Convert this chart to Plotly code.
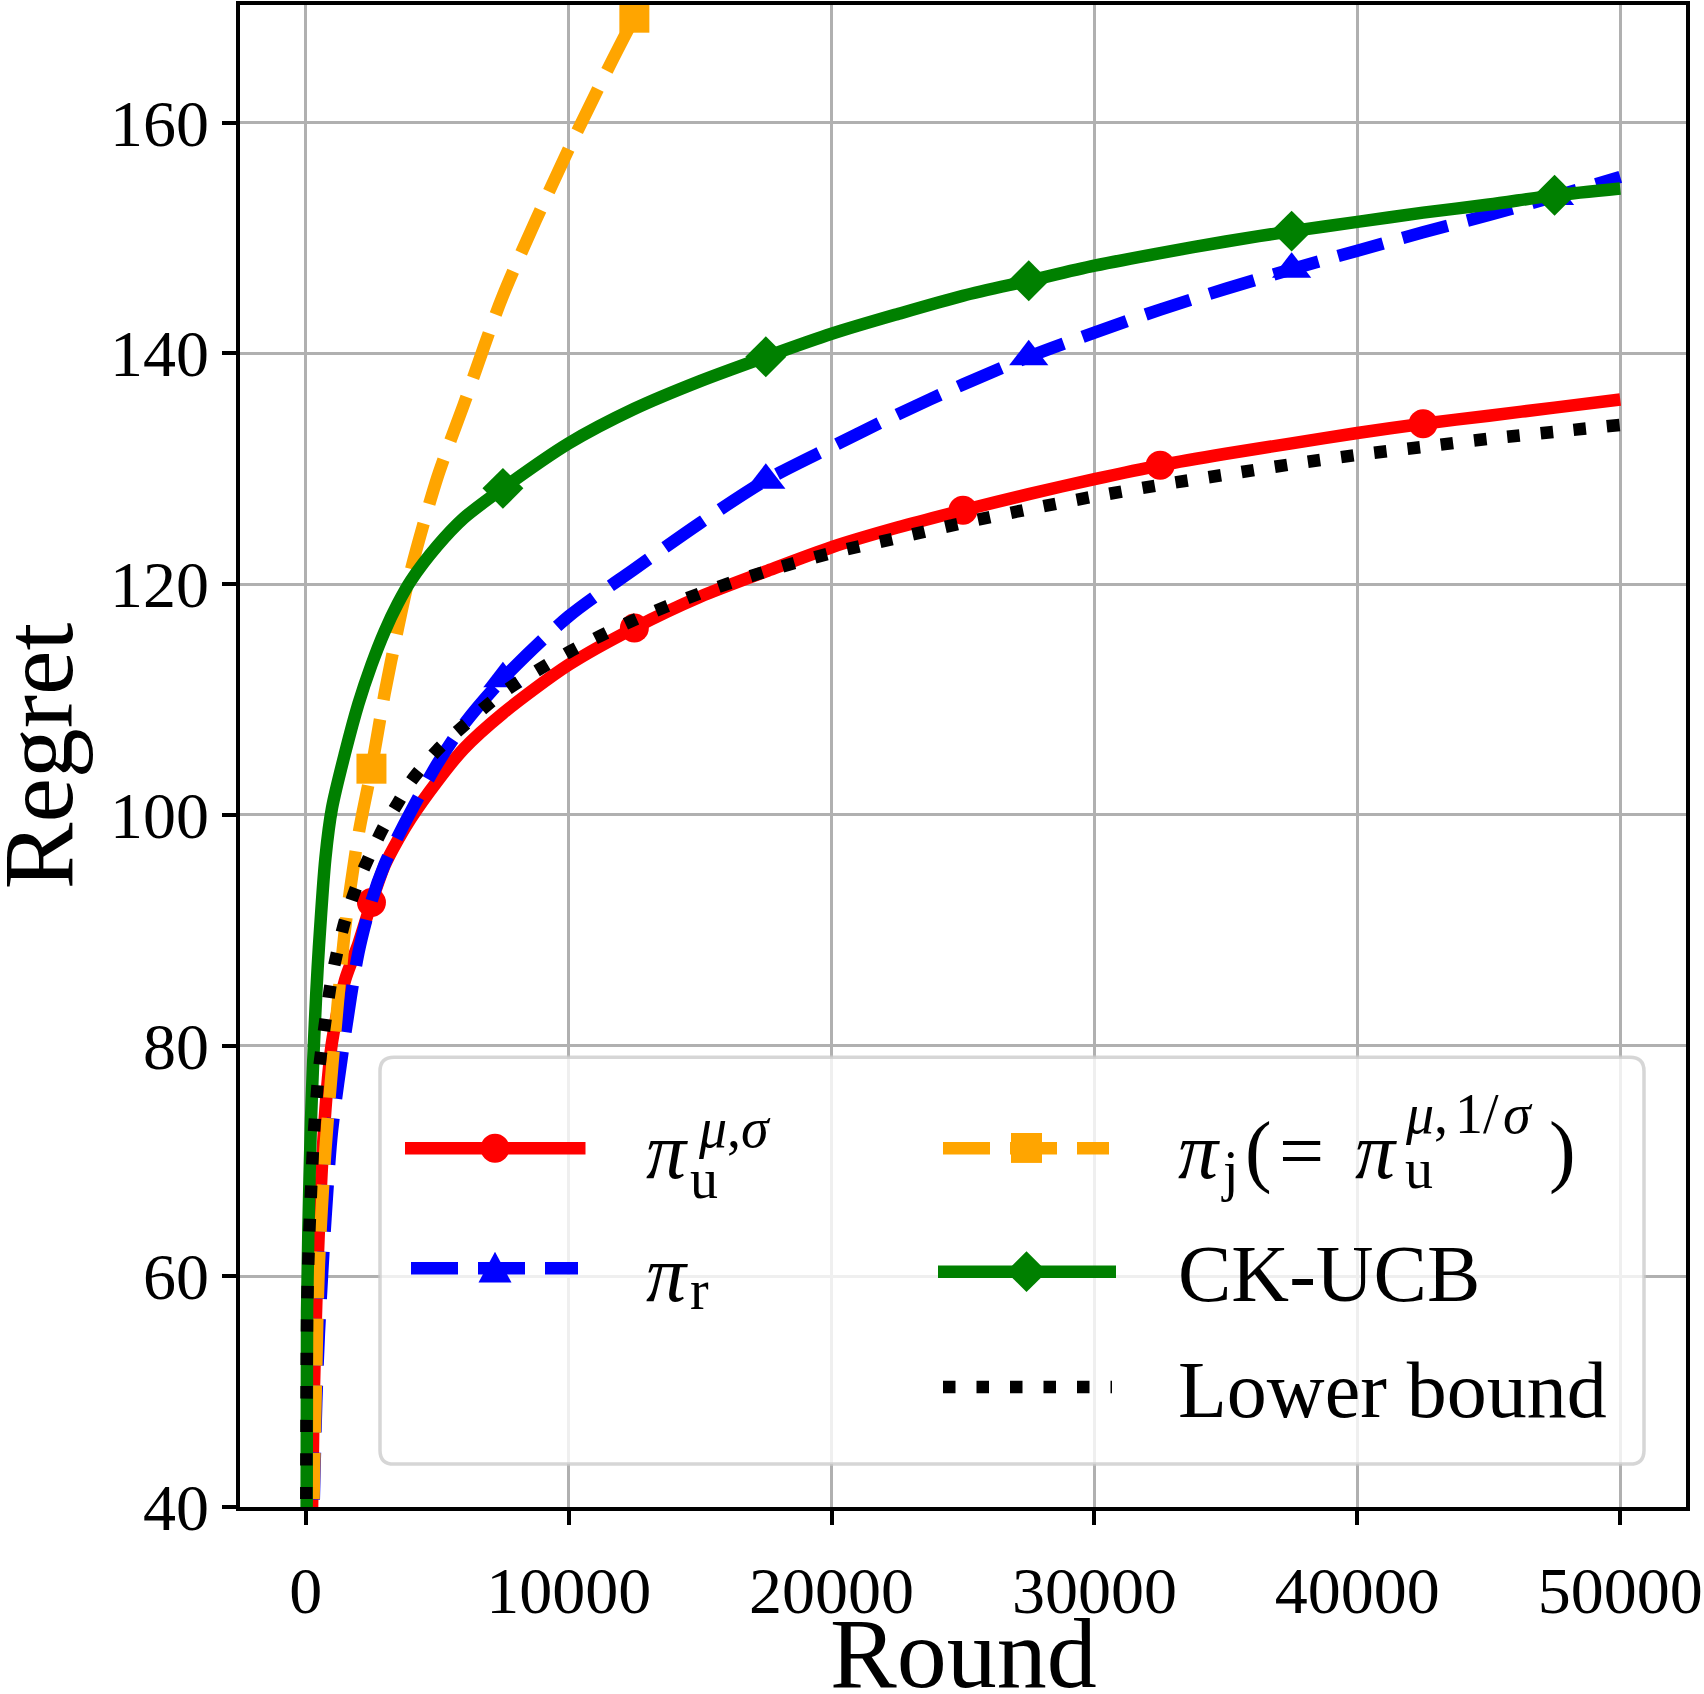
import plotly.graph_objects as go

# ---------------- data ----------------
ROUNDS = [0, 50, 100, 200, 300, 400, 500, 750, 1000, 1500, 2000, 2500, 3000, 3500,
          4000, 5000, 6000, 7500, 10000, 12500, 15000, 17500, 20000, 22500, 25000,
          27500, 30000, 32500, 35000, 37500, 40000, 42500, 45000, 47500, 50000]

regret_pi_u = [0, 12, 22, 33, 49, 57.5, 64, 74.5, 80.3, 85.7, 88.8, 92.4, 95.6, 97.8,
               99.7, 102.9, 105.7, 108.8, 113.0, 116.2, 118.9, 121.1, 123.2, 124.9, 126.4,
               127.8, 129.1, 130.3, 131.3, 132.2, 133.1, 133.9, 134.6, 135.3, 136.0]
regret_pi_r = [0, 10, 18, 30, 40, 49, 55, 65, 72.6, 81, 88, 92.5, 95.7, 98.1,
               100.3, 104.4, 107.8, 111.8, 117.2, 121.3, 125.3, 129.0, 131.9, 134.7, 137.3,
               139.7, 141.8, 143.8, 145.6, 147.3, 148.9, 150.5, 152.0, 153.6, 155.3]
regret_pi_j = [0, 8, 15, 28, 41, 52, 61, 71, 78, 90.2, 98.2, 104.0, 110.5, 116.1,
               121.2, 129.2, 135.5, 145.0, 157.7, 169.1, 179] + [None] * 14
regret_ckucb = [0, 57, 64, 73.5, 79.5, 84.5, 88.5, 96.3, 100.6, 105.4, 109.6, 113.0, 115.9, 118.3,
                120.3, 123.3, 125.7, 128.3, 132.2, 135.2, 137.6, 139.7, 141.7, 143.4, 145.0,
                146.3, 147.6, 148.7, 149.7, 150.6, 151.4, 152.2, 152.9, 153.7, 154.3]
regret_lower = [0, 56, 61.5, 67.3, 72, 75.1, 77.8, 82.2, 86.0, 90.9, 94.2, 96.8, 99.1, 101.0,
                102.9, 105.6, 107.7, 110.6, 114.1, 116.9, 119.2, 121.1, 122.7, 124.0, 125.3,
                126.5, 127.6, 128.6, 129.5, 130.4, 131.2, 131.9, 132.6, 133.2, 133.8]

# rounds at which a marker is drawn on each curve
marks_pi_u = [2500, 12500, 25000, 32500, 42500]
marks_pi_r = [7500, 17500, 27500, 37500, 47500]
marks_pi_j = [2500, 12500]
marks_ckucb = [7500, 17500, 27500, 37500, 47500]

X_TICKS = [0, 10000, 20000, 30000, 40000, 50000]
Y_TICKS = [40, 60, 80, 100, 120, 140, 160]

# ---------------- geometry / style ----------------
FONT = "Liberation Serif"
W_FIG, H_FIG = 1704, 1694
L, R, T, B = 240, 1686, 1, 1507
PW, PH = R - L, B - T
LW = 12.5
DASH = "47px,20px"
DOT = "12.5px,21px"


def PX(px):
    return (px - L) / PW


def PY(py):
    return (B - py) / PH


def sizes(marks, s):
    return [s if x in marks else 0 for x in ROUNDS]


fig = go.Figure()

series = [
    (regret_pi_u, "red", "solid", "circle", sizes(marks_pi_u, 29)),
    (regret_pi_r, "blue", DASH, "triangle-up", sizes(marks_pi_r, 34)),
    (regret_pi_j, "orange", DASH, "square", sizes(marks_pi_j, 30)),
    (regret_ckucb, "green", "solid", "diamond", sizes(marks_ckucb, 31.5)),
    (regret_lower, "black", DOT, "circle", sizes([], 0)),
]
for ys, col, dash, sym, sz in series:
    fig.add_trace(go.Scatter(
        x=ROUNDS, y=ys, mode="lines+markers",
        line=dict(color=col, width=LW, dash=dash, shape="spline", smoothing=0.8),
        marker=dict(symbol=sym, size=sz, color=col, opacity=1, line=dict(width=0)),
        showlegend=False, hoverinfo="skip"))

axis_common = dict(
    showline=True, linecolor="black", linewidth=3.5, mirror=True,
    ticks="outside", ticklen=14, tickwidth=3.5, tickcolor="black",
    showgrid=True, gridcolor="#b0b0b0", gridwidth=2.7, zeroline=False,
    tickfont=dict(family=FONT, size=66, color="black"),
)
fig.update_xaxes(range=[-2500, 52500], tickmode="array", tickvals=X_TICKS,
                 ticktext=[str(v) for v in X_TICKS], ticklabelstandoff=9, **axis_common)
fig.update_yaxes(range=[40, 170.2], tickmode="array", tickvals=Y_TICKS,
                 ticktext=[str(v) for v in Y_TICKS], **axis_common)

shapes = []
annotations = []


def ann(text, px, base, size, xanchor="left", angle=0):
    cy = base - 0.3375 * size
    annotations.append(dict(
        text=text, x=PX(px), y=PY(cy), xref="paper", yref="paper",
        xanchor=xanchor, yanchor="middle", showarrow=False, textangle=angle,
        borderpad=0, borderwidth=0,
        font=dict(family=FONT, size=size, color="black")))


# axis titles
ann("Round", 963, 1688, 100, xanchor="center")
annotations.append(dict(text="Regret", x=PX(38.3), y=PY(754), xref="paper", yref="paper",
                        xanchor="center", yanchor="middle", showarrow=False, textangle=-90,
                        borderpad=0, borderwidth=0,
                        font=dict(family=FONT, size=100, color="black")))

# legend frame (rounded)
bx0, bx1, by0, by1, rad = 380, 1644, 1056, 1464, 14
path = (f"M {PX(bx0+rad)},{PY(by0)} L {PX(bx1-rad)},{PY(by0)} "
        f"Q {PX(bx1)},{PY(by0)} {PX(bx1)},{PY(by0+rad)} "
        f"L {PX(bx1)},{PY(by1-rad)} Q {PX(bx1)},{PY(by1)} {PX(bx1-rad)},{PY(by1)} "
        f"L {PX(bx0+rad)},{PY(by1)} Q {PX(bx0)},{PY(by1)} {PX(bx0)},{PY(by1-rad)} "
        f"L {PX(bx0)},{PY(by0+rad)} Q {PX(bx0)},{PY(by0)} {PX(bx0+rad)},{PY(by0)} Z")
shapes.append(dict(type="path", path=path, xref="paper", yref="paper", layer="above",
                   fillcolor="rgba(255,255,255,0.8)",
                   line=dict(color="rgba(204,204,204,0.8)", width=3.5)))


def sample_line(x0, x1, y, col, dash):
    shapes.append(dict(type="line", xref="paper", yref="paper", layer="above",
                       x0=PX(x0), x1=PX(x1), y0=PY(y), y1=PY(y),
                       line=dict(color=col, width=LW, dash=dash)))


def poly(pts, col):
    d = "M " + " L ".join(f"{PX(a)},{PY(b)}" for a, b in pts) + " Z"
    shapes.append(dict(type="path", path=d, xref="paper", yref="paper", layer="above",
                       fillcolor=col, line=dict(width=0)))


# red
sample_line(405, 585.5, 1147.3, "red", "solid")
shapes.append(dict(type="circle", xref="paper", yref="paper", layer="above",
                   x0=PX(495 - 14.5), x1=PX(495 + 14.5), y0=PY(1147.3 - 14.5), y1=PY(1147.3 + 14.5),
                   fillcolor="red", line=dict(width=0)))
# blue
sample_line(411, 578, 1267.7, "blue", DASH)
poly([(495 - 16.5, 1282), (495 + 16.5, 1282), (495, 1251)], "blue")
# orange
sample_line(943, 1109, 1147.3, "orange", DASH)
poly([(1011, 1132), (1042, 1132), (1042, 1162), (1011, 1162)], "orange")
# green
sample_line(938, 1116, 1271, "green", "solid")
poly([(1026.5, 1250.5), (1047, 1271), (1026.5, 1291.5), (1006, 1271)], "green")
# black
sample_line(943, 1112, 1386.7, "black", DOT)

# legend texts
ann("<i>π</i>", 646, 1177, 80)
ann("u", 690, 1197, 56)
ann("<i>μ</i>,<i>σ</i>", 698, 1146, 56)
ann("<i>π</i>", 646, 1300, 80)
ann("r", 690, 1308, 56)
ann("<i>π</i>", 1178, 1177, 80)
ann("j", 1221, 1189, 56)
ann("(", 1245, 1177, 80)
ann("=", 1301.5, 1177, 80, xanchor="center")
ann("<i>π</i>", 1355, 1177, 80)
ann("u", 1405, 1187, 56)
ann("<i>μ</i>,", 1405, 1132, 56)
ann("1/", 1455, 1132, 56)
ann("<i>σ</i>", 1503, 1132, 56)
ann(")", 1549, 1177, 80)
ann("CK-UCB", 1178, 1300, 80)
ann("Lower bound", 1178, 1416.7, 80)

fig.update_layout(
    width=W_FIG, height=H_FIG,
    margin=dict(l=L, r=W_FIG - R, t=T, b=H_FIG - B, pad=0),
    paper_bgcolor="white", plot_bgcolor="white",
    shapes=shapes, annotations=annotations,
    showlegend=False,
)

fig.write_html("out.html")
